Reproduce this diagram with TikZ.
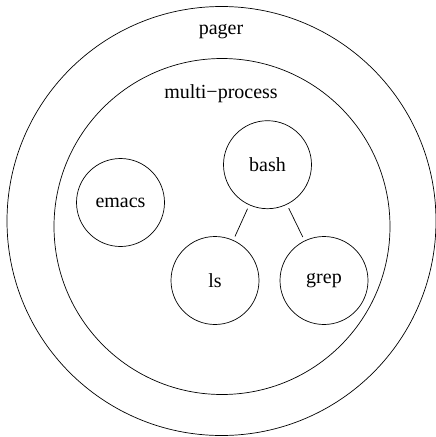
\documentclass[tikz,border=0pt]{standalone}
\usepackage{fontspec}
\setmainfont{Liberation Serif}
\begin{document}
\begin{tikzpicture}[x=1pt,y=-1pt,
  every node/.style={font=\fontsize{20}{24}\selectfont},
  ring/.style={circle,draw,line width=0.7pt,inner sep=0pt},
  proc/.style={circle,draw,line width=0.7pt,inner sep=0pt,minimum size=88pt},
  link/.style={line width=0.7pt,shorten <=4pt,shorten >=4pt}]
  \useasboundingbox (0,0) rectangle (436,437);
  % nested containers
  \node[ring,minimum size=429pt] (pager) at (221.5,221) {};
  \node[ring,minimum size=336pt] (multi) at (222,226.5) {};
  \node (pagerlabel) at (221,32) {pager};
  \node (multilabel) at (221,94) {multi\textminus process};
  % processes
  \node[proc] (bash) at (267.5,164.7) {bash};
  \node[proc] (emacs) at (120.5,202.5) {emacs};
  \node[proc] (ls) at (215,280.5) {ls};
  \node[proc] (grep) at (324,280.5) {grep};
  % parent-child links
  \draw[link] (bash) -- (ls);
  \draw[link] (bash) -- (grep);
\end{tikzpicture}
\end{document}
